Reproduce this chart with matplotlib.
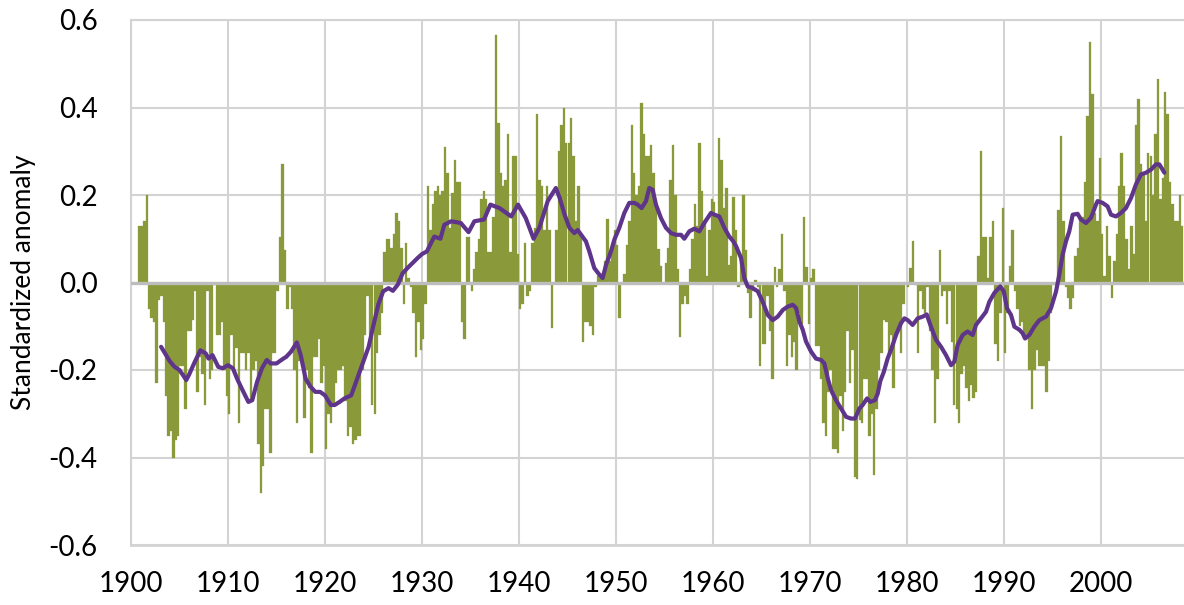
import matplotlib
matplotlib.use("Agg")
import matplotlib.pyplot as plt
import numpy as np

# Quarterly standardized anomalies, first value = 1900 Q4
anom_1900s = [0.13,
              0.13, 0.14, 0.20, -0.06,
              -0.08, -0.09, -0.23, -0.04,
              -0.03, -0.09, -0.26, -0.35,
              -0.34, -0.40, -0.36, -0.35,
              -0.19, -0.19, -0.29, -0.11,
              -0.11, -0.085, -0.02, -0.25,
              -0.17, -0.21, -0.28, -0.02,
              -0.22, -0.20, -0.005, -0.12,
              -0.12, -0.09, -0.20, -0.26]
anom_1910s = [-0.30, -0.12, -0.20, -0.15,
              -0.32, -0.16, -0.16, -0.20,
              -0.16, -0.27, -0.20, -0.18,
              -0.37, -0.48, -0.42, -0.29,
              -0.29, -0.39, -0.16, -0.16,
              -0.02, 0.105, 0.27, 0.075,
              -0.06, -0.01, -0.06, -0.20,
              -0.32, -0.18, -0.19, -0.31,
              -0.20, -0.24, -0.39, -0.17,
              -0.17, -0.13, -0.23, -0.19]
anom_1920s = [-0.38, -0.30, -0.32, -0.28,
              -0.23, -0.20, -0.20, -0.19,
              -0.27, -0.35, -0.33, -0.37,
              -0.36, -0.35, -0.35, -0.20,
              -0.12, -0.03, -0.12, -0.28,
              -0.30, -0.16, -0.12, -0.07,
              0.07, 0.10, 0.10, 0.08,
              0.11, 0.16, 0.14, 0.08,
              -0.05, 0.09, 0.01, -0.01,
              -0.07, -0.17, -0.09, -0.155]
anom_1930s = [-0.13, -0.05, 0.22, 0.12,
              0.18, 0.21, 0.22, 0.20,
              0.21, 0.31, 0.25, 0.125,
              0.205, 0.28, 0.23, 0.23,
              -0.09, -0.13, 0.105, 0.105,
              -0.02, 0.03, 0.07, 0.10,
              0.19, 0.21, 0.19, 0.07,
              0.07, 0.15, 0.565, 0.365,
              0.25, 0.22, 0.235, 0.34,
              0.07, 0.29, 0.29, 0.065]
anom_1940s = [-0.06, -0.05, 0.09, -0.03,
              -0.02, 0.09, 0.125, 0.385,
              0.235, 0.22, 0.12, 0.22,
              0.12, -0.105, 0.0, 0.12,
              0.30, 0.36, 0.40, 0.32,
              0.32, 0.375, 0.29, 0.14,
              0.22, 0.11, -0.135, -0.09,
              -0.09, -0.10, -0.12, -0.01,
              0.015, 0.01, 0.02, 0.05,
              0.145, 0.05, 0.08, 0.12]
anom_1950s = [0.085, -0.08, 0.0, 0.02,
              0.085, 0.14, 0.36, 0.25,
              0.20, 0.22, 0.41, 0.34,
              0.29, 0.29, 0.315, 0.25,
              0.17, 0.077, 0.037, 0.0,
              0.045, 0.08, 0.235, 0.315,
              0.20, 0.03, -0.125, -0.05,
              -0.03, -0.05, 0.03, 0.10,
              0.18, 0.13, 0.32, 0.21,
              0.14, 0.016, 0.12, 0.19]
anom_1960s = [0.185, 0.15, 0.33, 0.28,
              0.17, 0.215, 0.04, 0.06,
              0.195, 0.12, -0.01, 0.045,
              0.20, 0.075, -0.025, -0.08,
              -0.02, 0.005, -0.01, -0.19,
              -0.14, -0.14, -0.03, -0.11,
              -0.22, 0.035, -0.01, 0.03,
              0.11, -0.02, -0.19, -0.12,
              -0.17, -0.135, -0.20, -0.07,
              -0.095, 0.15, 0.035, -0.095]
anom_1970s = [0.01, 0.03, -0.145, -0.145,
              -0.22, -0.32, -0.35, -0.25,
              -0.20, -0.38, -0.38, -0.39,
              -0.26, -0.34, -0.25, -0.11,
              -0.23, -0.155, -0.445, -0.45,
              -0.315, -0.32, -0.22, -0.22,
              -0.35, -0.30, -0.44, -0.29,
              -0.20, -0.16, -0.085, -0.09,
              -0.16, -0.12, -0.24, -0.125,
              -0.11, -0.16, -0.05, 0.0]
anom_1980s = [-0.01, 0.033, 0.095, -0.005,
              -0.16, -0.02, -0.06, -0.07,
              -0.01, -0.11, -0.20, -0.32,
              -0.22, 0.075, -0.03, -0.02,
              -0.095, -0.02, -0.135, -0.28,
              -0.29, -0.32, -0.21, -0.19,
              -0.24, -0.27, -0.235, -0.265,
              -0.25, 0.06, 0.30, 0.105,
              0.105, 0.01, 0.105, 0.14,
              -0.14, -0.18, -0.07, 0.17]
anom_1990s = [-0.16, -0.07, 0.037, 0.12,
              -0.02, -0.06, -0.10, -0.09,
              -0.12, -0.13, -0.20, -0.29,
              -0.20, -0.155, -0.19, -0.19,
              -0.19, -0.25, -0.18, -0.07,
              -0.005, 0.0, 0.165, 0.335,
              0.14, -0.01, -0.035, -0.06,
              -0.035, 0.06, 0.08, 0.15,
              0.15, 0.23, 0.38, 0.55,
              0.43, 0.16, 0.14, 0.285]
anom_2000s = [0.11, 0.014, 0.13, 0.06,
              -0.035, 0.05, 0.11, 0.22,
              0.295, 0.22, 0.10, 0.03,
              0.13, 0.065, 0.36, 0.42,
              0.27, 0.25, 0.14, 0.295,
              0.29, 0.20, 0.34, 0.465,
              0.19, 0.24, 0.435, 0.385,
              0.23, 0.18, 0.14, 0.14,
              0.20, 0.13]
first_quarter_start = 1900.75
quarter = 0.25

# Smoothed curve (year, value)
line_years = [1903.1, 1904.0, 1904.5, 1905.0, 1905.7, 1906.0, 1906.5, 1907.15, 1907.7,
              1908.0, 1908.4, 1909.0, 1909.45, 1910.0, 1910.5, 1911.0, 1911.5, 1912.1,
              1912.5, 1913.0, 1913.5, 1914.0, 1914.4, 1915.0, 1915.7, 1916.0, 1916.5,
              1917.1, 1917.5, 1918.0, 1918.5, 1919.0, 1919.5, 1920.0, 1920.6, 1921.0,
              1921.5, 1922.0, 1922.7, 1923.2, 1924.0, 1924.5, 1925.0, 1925.5, 1926.0,
              1926.55, 1927.0, 1927.5, 1928.0, 1928.5, 1929.0, 1929.55, 1930.0, 1930.5,
              1930.93, 1931.27, 1931.9, 1932.3, 1933.0, 1934.0, 1934.8, 1935.4, 1936.4,
              1937.05, 1938.0, 1939.2, 1939.9, 1940.7, 1941.5, 1942.1, 1942.96, 1943.8,
              1944.2, 1944.7, 1945.2, 1945.7, 1946.05, 1946.9, 1947.25, 1947.76, 1948.28,
              1948.62, 1948.97, 1949.48, 1949.83, 1950.34, 1950.86, 1951.37, 1951.89,
              1952.23, 1952.64, 1953.09, 1953.43, 1953.78, 1954.12, 1954.64, 1955.15,
              1955.67, 1956.18, 1956.7, 1957.04, 1957.56, 1958.07, 1958.59, 1959.1,
              1959.79, 1960.14, 1960.65, 1961.17, 1961.68, 1962.06, 1962.38, 1962.89,
              1963.23, 1963.58, 1964.09, 1964.61, 1965.12, 1965.64, 1966.16, 1966.67,
              1967.19, 1967.7, 1968.22, 1968.56, 1968.9, 1969.25, 1969.59, 1970.11,
              1970.62, 1971.14, 1971.48, 1971.83, 1972.17, 1972.68, 1973.2, 1973.72,
              1974.23, 1974.64, 1975.09, 1975.43, 1975.88, 1976.22, 1976.7, 1976.98,
              1977.25, 1977.6, 1978.0, 1978.35, 1978.87, 1979.38, 1979.73, 1980.07,
              1980.58, 1981.1, 1981.62, 1982.03, 1982.47, 1982.99, 1983.51, 1984.02,
              1984.54, 1984.88, 1985.22, 1985.74, 1986.25, 1986.77, 1987.11, 1987.63,
              1988.14, 1988.49, 1989.0, 1989.62, 1989.97, 1990.31, 1990.72, 1991.07,
              1991.58, 1991.92, 1992.17, 1992.61, 1993.12, 1993.64, 1994.33, 1994.84,
              1995.36, 1995.7, 1996.04, 1996.39, 1996.73, 1997.08, 1997.59, 1997.93,
              1998.45, 1998.97, 1999.48, 1999.65, 2000.17, 2000.68, 2001.03, 2001.54,
              2002.06, 2002.57, 2003.09, 2003.6, 2004.12, 2004.64, 2005.15, 2005.67,
              2006.01, 2006.35, 2006.53]
line_values = [-0.147, -0.18, -0.193, -0.20, -0.223, -0.21, -0.185, -0.155, -0.162,
               -0.174, -0.166, -0.193, -0.196, -0.189, -0.196, -0.223, -0.246, -0.273,
               -0.269, -0.227, -0.196, -0.177, -0.185, -0.185, -0.174, -0.17, -0.158,
               -0.137, -0.166, -0.22, -0.238, -0.25, -0.25, -0.258, -0.28, -0.28,
               -0.273, -0.265, -0.258, -0.227, -0.177, -0.147, -0.097, -0.05, -0.02,
               -0.013, -0.019, -0.005, 0.021, 0.033, 0.044, 0.056, 0.065, 0.071,
               0.09, 0.105, 0.10, 0.132, 0.14, 0.136, 0.115, 0.14, 0.144,
               0.178, 0.17, 0.151, 0.178, 0.147, 0.10, 0.125, 0.186, 0.216,
               0.193, 0.155, 0.125, 0.113, 0.12, 0.094, 0.071, 0.033, 0.018,
               0.01, 0.04, 0.071, 0.098, 0.125, 0.159, 0.182, 0.182,
               0.178, 0.17, 0.186, 0.216, 0.212, 0.178, 0.147, 0.125,
               0.113, 0.109, 0.109, 0.10, 0.117, 0.123, 0.117, 0.136,
               0.159, 0.155, 0.151, 0.125, 0.105, 0.095, 0.083, 0.056,
               0.01, -0.009, -0.013, -0.02, -0.044, -0.074, -0.086, -0.078,
               -0.063, -0.055, -0.051, -0.058, -0.089, -0.108, -0.135, -0.158,
               -0.174, -0.177, -0.185, -0.219, -0.246, -0.269, -0.288, -0.307,
               -0.311, -0.311, -0.288, -0.28, -0.265, -0.273, -0.269, -0.254,
               -0.225, -0.205, -0.174, -0.154, -0.12, -0.093, -0.082, -0.086,
               -0.097, -0.082, -0.078, -0.073, -0.101, -0.131, -0.147, -0.166,
               -0.189, -0.181, -0.143, -0.12, -0.112, -0.12, -0.097, -0.082,
               -0.067, -0.044, -0.024, -0.009, -0.02, -0.059, -0.074, -0.101,
               -0.108, -0.116, -0.128, -0.12, -0.101, -0.086, -0.078, -0.059,
               -0.021, 0.018, 0.063, 0.094, 0.117, 0.155, 0.157, 0.144,
               0.136, 0.148, 0.178, 0.186, 0.182, 0.174, 0.155, 0.151,
               0.159, 0.17, 0.193, 0.224, 0.247, 0.251, 0.258, 0.27,
               0.27, 0.258, 0.251]

x_ticks = [1900, 1910, 1920, 1930, 1940, 1950, 1960, 1970, 1980, 1990, 2000]
y_ticks = [-0.6, -0.4, -0.2, 0.0, 0.2, 0.4, 0.6]
y_label = "Standardized anomaly"

bar_color = "#8A9A3B"
line_color = "#5E358B"
grid_color = "#D3D3D3"

plt.rcParams['font.family'] = ['Lato', 'DejaVu Sans']

anomalies = np.array(anom_1900s + anom_1910s + anom_1920s + anom_1930s + anom_1940s +
                     anom_1950s + anom_1960s + anom_1970s + anom_1980s + anom_1990s +
                     anom_2000s)
bar_x = first_quarter_start + quarter * np.arange(len(anomalies)) + quarter / 2

fig = plt.figure(figsize=(11.84, 6.05), dpi=100)
ax = fig.add_axes([131 / 1184, 1 - 545 / 605, 1 - 131 / 1184, (545 - 20) / 605])

ax.bar(bar_x, anomalies, width=quarter, color=bar_color, edgecolor=bar_color,
       linewidth=0.2, zorder=2)
ax.axhline(0, color="#BDBDBD", lw=2.4, zorder=3)
ax.plot(line_years, line_values, color=line_color, lw=3.0, zorder=4,
        solid_joinstyle='round', solid_capstyle='round')

ax.set_xlim(1900, 1900 + (1184 - 131) / 9.7)
ax.set_ylim(-0.6, 0.6)
ax.set_xticks(x_ticks)
ax.set_xticklabels([str(t) for t in x_ticks])
ax.set_yticks(y_ticks)
ax.set_yticklabels([f"{t:.1f}" for t in y_ticks])
ax.grid(True, color=grid_color, lw=1.5, zorder=0)
ax.set_axisbelow(True)
ax.spines['right'].set_visible(False)
ax.spines['top'].set_color(grid_color)
ax.spines['top'].set_linewidth(1.5)
ax.spines['bottom'].set_color(grid_color)
ax.spines['bottom'].set_linewidth(2.0)
ax.spines['left'].set_color(grid_color)
ax.spines['left'].set_linewidth(1.5)
ax.tick_params(axis='both', length=0, labelsize=20, colors="#000000")
ax.tick_params(axis='x', pad=19)
ax.tick_params(axis='y', pad=24)
ax.set_ylabel(y_label, fontsize=19)
ax.yaxis.set_label_coords((36 - 131) / 1053, 0.5)

fig.savefig("out.png", dpi=100)
